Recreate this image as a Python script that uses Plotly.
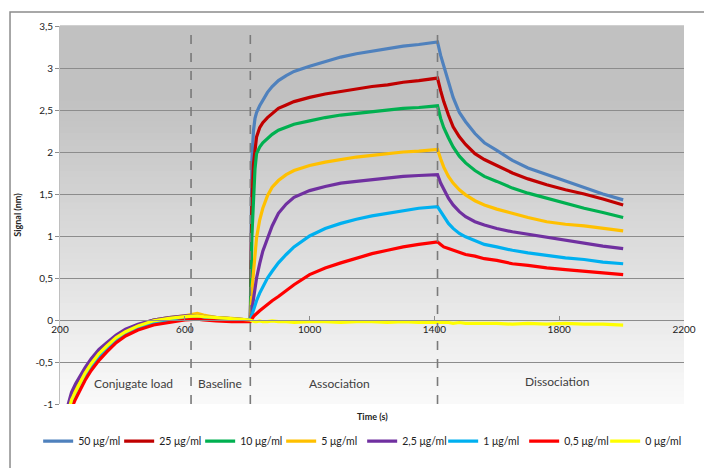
import plotly.graph_objects as go

# ---------------- data ----------------
series_names = ["50 μg/ml", "25 μg/ml", "10 μg/ml", "5 μg/ml",
                "2,5 μg/ml", "1 μg/ml", "0,5 μg/ml", "0 μg/ml"]
series_colors = ["#4F81BD", "#C00000", "#00B050", "#FFC000",
                 "#7030A0", "#00B0F0", "#FF0000", "#FFFF00"]

t_load = [225, 237, 250, 265, 280, 300, 325, 350, 380, 410, 450, 500, 550,
          600, 640, 660, 700, 750, 810]
t_assoc = [815, 820, 825, 830, 840, 850, 865, 880, 900, 925, 950, 1000, 1050,
           1100, 1150, 1200, 1250, 1300, 1350, 1410]
t_dissoc = [1420, 1430, 1445, 1460, 1480, 1500, 1530, 1560, 1600, 1650, 1700,
            1760, 1820, 1880, 1940, 2005]

load_50 = [-1.06, -0.90, -0.80, -0.69, -0.60, -0.49, -0.38, -0.29, -0.20, -0.13, -0.06, 0.00, 0.03, 0.04, 0.05, 0.04, 0.03, 0.02, 0.00]
load_25 = [-1.18, -1.02, -0.91, -0.80, -0.69, -0.57, -0.45, -0.35, -0.25, -0.17, -0.10, -0.04, -0.01, 0.01, 0.02, 0.01, 0.00, -0.01, 0.00]
load_10 = [-1.09, -0.92, -0.82, -0.71, -0.61, -0.50, -0.39, -0.30, -0.20, -0.13, -0.07, -0.01, 0.02, 0.04, 0.04, 0.03, 0.02, 0.01, 0.00]
load_5 = [-1.10, -0.93, -0.83, -0.72, -0.62, -0.51, -0.39, -0.30, -0.20, -0.13, -0.06, 0.00, 0.03, 0.05, 0.08, 0.06, 0.03, 0.02, 0.00]
load_2_5 = [-1.02, -0.86, -0.76, -0.66, -0.57, -0.46, -0.35, -0.27, -0.18, -0.11, -0.05, 0.00, 0.03, 0.05, 0.05, 0.04, 0.03, 0.02, 0.00]
load_1 = [-1.16, -1.00, -0.89, -0.78, -0.67, -0.55, -0.43, -0.33, -0.23, -0.16, -0.09, -0.03, 0.00, 0.02, 0.03, 0.02, 0.01, 0.00, 0.00]
load_0_5 = [-1.20, -1.05, -0.94, -0.83, -0.72, -0.60, -0.48, -0.38, -0.27, -0.19, -0.12, -0.06, -0.03, 0.00, 0.01, 0.00, -0.01, -0.02, -0.02]
load_0 = [-1.12, -0.95, -0.85, -0.74, -0.635, -0.52, -0.40, -0.31, -0.21, -0.14, -0.07, -0.01, 0.02, 0.04, 0.05, 0.04, 0.03, 0.02, 0.00]

assoc_50 = [1.90, 2.25, 2.40, 2.47, 2.55, 2.62, 2.71, 2.78, 2.85, 2.91, 2.96, 3.02, 3.08, 3.13, 3.17, 3.20, 3.23, 3.26, 3.28, 3.31]
assoc_25 = [1.40, 1.85, 2.05, 2.18, 2.29, 2.35, 2.41, 2.46, 2.52, 2.56, 2.60, 2.65, 2.69, 2.72, 2.75, 2.78, 2.80, 2.83, 2.85, 2.88]
assoc_10 = [1.00, 1.50, 1.80, 1.98, 2.06, 2.11, 2.16, 2.21, 2.26, 2.30, 2.33, 2.37, 2.41, 2.44, 2.46, 2.48, 2.50, 2.52, 2.53, 2.55]
assoc_5 = [0.35, 0.60, 0.82, 0.98, 1.19, 1.33, 1.48, 1.58, 1.66, 1.73, 1.78, 1.84, 1.88, 1.91, 1.94, 1.96, 1.98, 2.00, 2.01, 2.03]
assoc_2_5 = [0.12, 0.25, 0.38, 0.50, 0.67, 0.82, 0.97, 1.12, 1.27, 1.38, 1.46, 1.54, 1.59, 1.63, 1.65, 1.67, 1.69, 1.71, 1.72, 1.73]
assoc_1 = [0.06, 0.12, 0.18, 0.23, 0.32, 0.40, 0.50, 0.58, 0.68, 0.78, 0.87, 1.00, 1.09, 1.15, 1.20, 1.24, 1.27, 1.30, 1.33, 1.35]
assoc_0_5 = [0.02, 0.04, 0.06, 0.08, 0.11, 0.14, 0.19, 0.23, 0.28, 0.35, 0.42, 0.54, 0.62, 0.68, 0.74, 0.79, 0.83, 0.87, 0.90, 0.93]
assoc_0 = [-0.01, -0.02, -0.02, -0.02, -0.01, -0.02, -0.02, -0.01, -0.02, -0.02, -0.03, -0.02, -0.02, -0.03, -0.02, -0.02, -0.03, -0.02, -0.03, -0.03]

dissoc_50 = [3.15, 3.02, 2.83, 2.65, 2.47, 2.36, 2.22, 2.11, 2.02, 1.90, 1.81, 1.73, 1.65, 1.57, 1.50, 1.43]
dissoc_25 = [2.73, 2.60, 2.44, 2.30, 2.18, 2.09, 1.98, 1.91, 1.84, 1.75, 1.68, 1.61, 1.55, 1.50, 1.44, 1.37]
dissoc_10 = [2.40, 2.29, 2.17, 2.06, 1.95, 1.87, 1.78, 1.71, 1.65, 1.57, 1.51, 1.45, 1.39, 1.33, 1.28, 1.22]
dissoc_5 = [1.92, 1.82, 1.71, 1.63, 1.55, 1.49, 1.42, 1.37, 1.32, 1.27, 1.22, 1.17, 1.14, 1.12, 1.09, 1.06]
dissoc_2_5 = [1.63, 1.55, 1.45, 1.37, 1.29, 1.23, 1.17, 1.13, 1.09, 1.05, 1.02, 0.99, 0.95, 0.91, 0.88, 0.85]
dissoc_1 = [1.29, 1.23, 1.15, 1.09, 1.03, 0.99, 0.94, 0.90, 0.87, 0.83, 0.80, 0.77, 0.74, 0.72, 0.69, 0.67]
dissoc_0_5 = [0.90, 0.87, 0.85, 0.83, 0.80, 0.78, 0.76, 0.73, 0.71, 0.67, 0.65, 0.62, 0.60, 0.58, 0.56, 0.54]
dissoc_0 = [-0.03, -0.03, -0.03, -0.04, -0.03, -0.04, -0.04, -0.04, -0.04, -0.05, -0.04, -0.05, -0.04, -0.05, -0.05, -0.06]

load_vals = [load_50, load_25, load_10, load_5, load_2_5, load_1, load_0_5, load_0]
assoc_vals = [assoc_50, assoc_25, assoc_10, assoc_5, assoc_2_5, assoc_1, assoc_0_5, assoc_0]
dissoc_vals = [dissoc_50, dissoc_25, dissoc_10, dissoc_5, dissoc_2_5, dissoc_1, dissoc_0_5, dissoc_0]

phase_bounds = [620, 810, 1410]
phase_labels = ["Conjugate load", "Baseline", "Association", "Dissociation"]
phase_label_x = [434, 712, 1096, 1794]
phase_label_y = [-0.75, -0.75, -0.75, -0.73]

x_tickvals = [200, 600, 1000, 1400, 1800, 2200]
y_tickvals = [-1, -0.5, 0, 0.5, 1, 1.5, 2, 2.5, 3, 3.5]
y_ticktext = ["-1", "-0,5", "0", "0,5", "1", "1,5", "2", "2,5", "3", "3,5"]

# ---------------- figure ----------------
FONT = "Lato"
fig = go.Figure()

t_all = t_load + t_assoc + t_dissoc
for name, color, lv, av, dv in zip(series_names, series_colors, load_vals, assoc_vals, dissoc_vals):
    fig.add_trace(go.Scatter(
        x=t_all, y=lv + av + dv, mode="lines", name=name,
        line=dict(color=color, width=3.2),
    ))

shapes = []
# vertical gradient background (darker at top)
n = 60
for i in range(n):
    f0, f1 = i / n, (i + 1) / n
    fm = (f0 + f1) / 2
    g = int(round(250 - 57 * min(1.0, fm / 0.8)))
    shapes.append(dict(type="rect", xref="x domain", yref="y domain",
                       x0=0, x1=1, y0=f0, y1=f1 + 0.002, layer="below",
                       line=dict(width=0), fillcolor=f"rgb({g},{g},{g})"))
# phase boundaries
for b in phase_bounds:
    shapes.append(dict(type="line", xref="x", yref="y domain", x0=b, x1=b,
                       y0=0, y1=1, line=dict(color="#7a7a7a", width=1.6, dash="dash")))
# outer chart frame
shapes.append(dict(type="rect", xref="paper", yref="paper",
                   x0=-0.0801, x1=1.2, y0=-0.3, y1=1.037,
                   line=dict(color="#8c8c8c", width=1.5), fillcolor="rgba(0,0,0,0)"))

annotations = []
for txt, ax_, ay_ in zip(phase_labels, phase_label_x, phase_label_y):
    annotations.append(dict(x=ax_, y=ay_, xref="x", yref="y", text=txt, showarrow=False,
                            font=dict(family=FONT, size=12, color="#404040")))
annotations.append(dict(x=0.5, y=-0.012, xref="paper", yref="paper", text="<b>Time (s)</b>",
                        showarrow=False, yanchor="top",
                        font=dict(family=FONT, size=9, color="#222")))

# the page body adds an 8px offset; size the figure so the plot area lands
# on the same pixels as the reference
fig.update_layout(
    width=704, height=460,
    margin=dict(l=52, r=28, t=18, b=64, autoexpand=False),
    paper_bgcolor="white", plot_bgcolor="white",
    font=dict(family=FONT, size=10, color="#222"),
    shapes=shapes, annotations=annotations,
    showlegend=True,
    legend=dict(orientation="h", x=-0.035, xanchor="left", y=-0.06, yanchor="top",
                font=dict(family=FONT, size=10.5, color="#222"),
                itemwidth=30, entrywidth=36, entrywidthmode="pixels",
                tracegroupgap=0, bgcolor="rgba(0,0,0,0)"),
    xaxis=dict(range=[200, 2200], tickvals=x_tickvals, showgrid=False, zeroline=False,
               anchor="free", position=1 / 4.5, showline=True, linecolor="#8c8c8c",
               linewidth=1, ticks="inside", ticklen=4, tickcolor="#8c8c8c",
               tickfont=dict(family=FONT, size=10, color="#222")),
    yaxis=dict(range=[-1, 3.5], tickvals=y_tickvals, ticktext=y_ticktext,
               showgrid=True, gridcolor="#8c8c8c", gridwidth=1, zeroline=False,
               showline=True, linecolor="#bfbfbf", ticks="outside", ticklen=4,
               tickcolor="#8c8c8c", tickfont=dict(family=FONT, size=10, color="#222"),
               title=dict(text="<b>Signal (nm)</b>", standoff=12,
                          font=dict(family=FONT, size=9, color="#222"))),
)

fig.write_html("out.html")
